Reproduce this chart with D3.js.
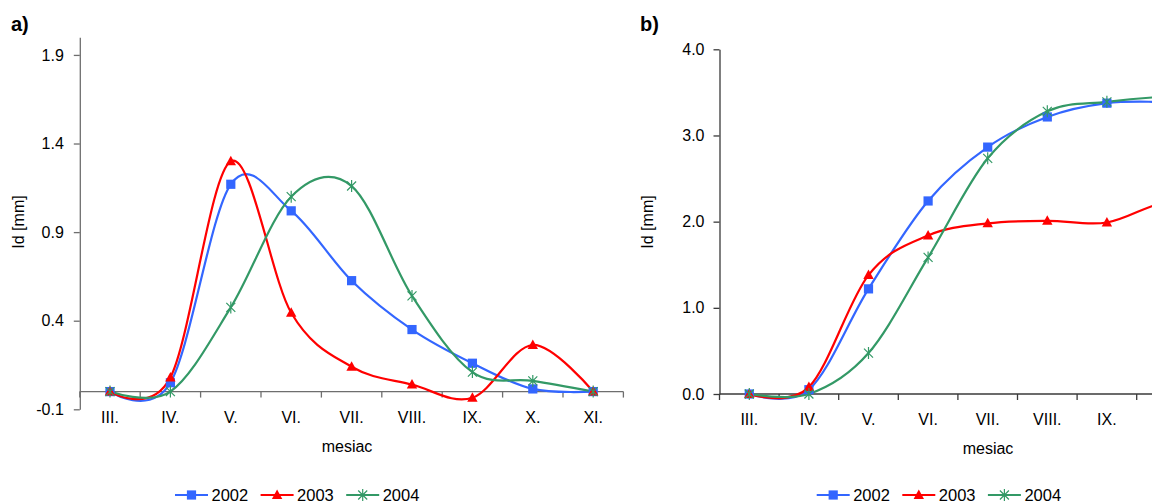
<!DOCTYPE html>
<html>
<head>
<meta charset="utf-8">
<script src="https://cdn.jsdelivr.net/npm/d3@7"></script>
<style>
  html, body { margin: 0; padding: 0; background: #fff; }
  svg { display: block; font-family: "Liberation Sans", Arial, sans-serif; }
</style>
</head>
<body>
<svg id="chart" width="1152" height="504"></svg>
<script>
// Months (Roman numerals) shared by both panels
const months = ["III.", "IV.", "V.", "VI.", "VII.", "VIII.", "IX.", "X.", "XI."];
const years = ["2002", "2003", "2004"];

// Panel a) – monthly increment Id [mm]
const incr2002 = [0, 0.05, 1.17, 1.02, 0.626, 0.35, 0.16, 0.015, 0];
const incr2003 = [0, 0.08, 1.30, 0.445, 0.14, 0.04, -0.035, 0.263, 0];
const incr2004 = [0, 0, 0.475, 1.10, 1.16, 0.54, 0.11, 0.06, 0];

// Panel b) – cumulative Id [mm]
const cum2002 = [0, 0.05, 1.22, 2.24, 2.865, 3.215, 3.375, 3.39, 3.39];
const cum2003 = [0, 0.08, 1.38, 1.84, 1.98, 2.01, 1.99, 2.23, 2.23];
const cum2004 = [0, 0, 0.475, 1.585, 2.735, 3.28, 3.39, 3.45, 3.45];

const ticksA = [-0.1, 0.4, 0.9, 1.4, 1.9];
const ticksB = [0, 1, 2, 3, 4];

const colors = { "2002": "#3366ff", "2003": "#ff0000", "2004": "#339966" };

// plain hyphen for negative numbers
const fmt = d => d.toFixed(1);

const svg = d3.select("#chart");

function marker(sel, year) {
  const c = colors[year];
  if (year === "2002") {
    sel.append("rect").attr("x", -4.6).attr("y", -4.6).attr("width", 9.2).attr("height", 9.2).attr("fill", c);
  } else if (year === "2003") {
    sel.append("path").attr("d", "M0,-5.5L5.2,4L-5.2,4Z").attr("fill", c);
  } else {
    sel.append("path").attr("d", "M-4.5,-4.5L4.5,4.5M-4.5,4.5L4.5,-4.5M0,-6L0,6")
      .attr("stroke", c).attr("stroke-width", 1.2).attr("fill", "none");
  }
}

function panel(opt) {
  const g = svg.append("g");
  const x = d3.scaleBand().domain(months).range([opt.x0, opt.x0 + opt.step * months.length]).padding(0);
  const y = d3.scaleLinear().domain(opt.yDomain).range(opt.yRange);
  const cx = m => x(m) + x.bandwidth() / 2;

  // y axis
  g.append("g")
    .attr("transform", `translate(${opt.x0},0)`)
    .call(d3.axisLeft(y).tickValues(opt.yTicks).tickFormat(fmt).tickSize(6).tickSizeOuter(0).tickPadding(opt.yPad))
    .call(a => a.select(".domain").attr("stroke", opt.axisColor).attr("stroke-width", 1.3))
    .call(a => a.selectAll(".tick line").attr("stroke", opt.axisColor).attr("stroke-width", 1.3))
    .call(a => a.selectAll("text").attr("font-size", 16).attr("fill", "#000")
      .attr("font-family", "'Liberation Sans', Arial, sans-serif"));

  // x axis at zero level with ticks on month boundaries
  const y0 = y(0);
  const xEnd = opt.x0 + opt.step * months.length;
  g.append("line").attr("x1", opt.x0).attr("x2", xEnd).attr("y1", y0).attr("y2", y0)
    .attr("stroke", opt.axisColor).attr("stroke-width", 1.3);
  const bounds = months.map(m => x(m)).concat([xEnd]);
  g.selectAll(".bt").data(bounds).join("line")
    .attr("x1", d => d).attr("x2", d => d).attr("y1", y0).attr("y2", y0 + 6)
    .attr("stroke", opt.axisColor).attr("stroke-width", 1.3);
  g.selectAll(".ml").data(months).join("text")
    .attr("x", d => cx(d)).attr("y", y0 + 31)
    .attr("text-anchor", "middle").attr("font-size", 16).text(d => d);

  // axis titles and panel letter
  g.append("text").attr("x", opt.titleX).attr("y", y0 + 60)
    .attr("text-anchor", "middle").attr("font-size", 16).text("mesiac");
  g.append("text").attr("transform", `translate(${opt.ylabX},222) rotate(-90)`)
    .attr("text-anchor", "middle").attr("dominant-baseline", "central").attr("font-size", 16).text("Id [mm]");
  g.append("text").attr("x", opt.letterX).attr("y", 31)
    .attr("font-size", 20).attr("font-weight", "bold").text(opt.letter);

  // series
  const line = d3.line().x((d, i) => cx(months[i])).y(d => y(d)).curve(d3.curveCardinal.tension(0));
  years.forEach((yr, k) => {
    const vals = opt.series[k];
    g.append("path").datum(vals).attr("d", line)
      .attr("fill", "none").attr("stroke", colors[yr]).attr("stroke-width", 2.2);
  });
  years.forEach((yr, k) => {
    const vals = opt.series[k];
    vals.forEach((v, i) => {
      const mg = g.append("g").attr("transform", `translate(${cx(months[i])},${y(v)})`);
      marker(mg, yr);
    });
  });

  // legend
  const lg = g.append("g");
  years.forEach((yr, k) => {
    const lx = opt.legX + k * 85.6;
    const item = lg.append("g");
    item.append("line").attr("x1", lx).attr("x2", lx + 33).attr("y1", 495).attr("y2", 495)
      .attr("stroke", colors[yr]).attr("stroke-width", 2.2);
    marker(item.append("g").attr("transform", `translate(${lx + 16.5},495)`), yr);
    item.append("text").attr("x", lx + 36.5).attr("y", 501).attr("font-size", 16.5).text(yr);
  });
}

panel({
  letter: "a)", letterX: 11,
  x0: 79.8, step: 60.4,
  yDomain: [-0.1, 2.0], yRange: [409.3, 37.2], yTicks: ticksA, yPad: 10,
  axisColor: "#6e6e6e",
  series: [incr2002, incr2003, incr2004],
  titleX: 347, ylabX: 18.5, legX: 175
});

panel({
  letter: "b)", letterX: 640,
  x0: 719.5, step: 59.6,
  yDomain: [0, 4.0], yRange: [394, 49.3], yTicks: ticksB, yPad: 9,
  axisColor: "#3a3a3a",
  series: [cum2002, cum2003, cum2004],
  titleX: 988, ylabX: 647, legX: 816.7
});
</script>
</body>
</html>
